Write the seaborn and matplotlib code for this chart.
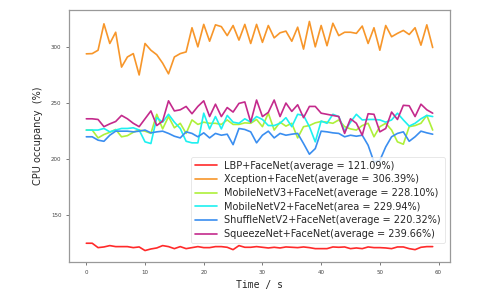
import numpy as np
import pandas as pd
import seaborn as sns
import matplotlib
matplotlib.use('Agg')
import matplotlib.pyplot as plt

seconds = list(range(60))

lbp = [125.3, 125.3, 121.4, 122.0, 123.2, 122.3, 122.3, 122.3, 121.4, 122.0,
       118.8, 120.2, 121.1, 123.2, 122.3, 120.5, 122.3, 120.5, 121.4, 122.3,
       121.4, 121.4, 122.3, 122.3, 121.7, 119.6, 123.2, 121.7, 121.7, 122.3,
       121.7, 121.1, 121.7, 121.1, 122.0, 121.7, 121.4, 122.0, 121.4, 120.5,
       120.5, 120.5, 122.0, 121.7, 122.0, 120.5, 121.1, 120.5, 122.0, 121.4,
       121.4, 121.1, 120.5, 122.0, 122.0, 120.5, 119.6, 121.7, 122.3, 122.3]

xception = [293.8, 294.0, 297.0, 320.5, 303.0, 313.0, 282.0, 291.0, 294.0, 275.0,
            303.0, 297.0, 293.0, 285.5, 276.0, 291.0, 294.0, 295.5, 317.0, 300.0,
            320.0, 305.0, 319.6, 318.0, 310.0, 319.0, 306.0, 320.0, 303.0, 320.0,
            304.0, 319.0, 308.0, 312.5, 314.0, 305.0, 317.5, 298.0, 322.6, 300.0,
            319.0, 301.0, 321.0, 310.0, 313.0, 313.0, 312.0, 318.5, 303.0, 317.0,
            297.0, 319.0, 309.0, 312.0, 314.6, 311.0, 317.0, 301.5, 319.6, 299.4]

mobilev3 = [226.0, 226.0, 219.0, 222.0, 224.0, 226.5, 220.0, 221.0, 224.0, 226.0,
            225.0, 223.0, 240.0, 227.0, 238.0, 228.0, 232.0, 223.0, 235.0, 231.0,
            233.0, 232.0, 232.0, 231.0, 235.0, 231.0, 231.0, 232.4, 232.0, 235.4,
            229.0, 241.0, 226.0, 233.0, 229.5, 232.0, 219.0, 229.0, 230.0, 232.4,
            233.6, 233.0, 232.0, 235.0, 229.0, 227.0, 226.0, 230.0, 232.0, 220.0,
            229.0, 232.0, 226.0, 215.5, 213.4, 229.0, 230.0, 232.0, 239.0, 226.0]

mobilev2 = [226.0, 226.0, 226.0, 227.4, 224.4, 226.0, 227.4, 227.4, 228.0, 226.0,
            215.5, 214.0, 237.0, 233.0, 240.0, 233.0, 227.4, 216.0, 214.6, 214.6,
            241.0, 227.0, 238.0, 227.0, 239.0, 233.0, 232.0, 236.0, 233.0, 238.0,
            235.4, 230.0, 230.0, 232.0, 237.0, 229.0, 240.0, 239.0, 229.0, 215.5,
            234.0, 232.0, 240.0, 238.0, 225.0, 233.0, 240.0, 235.0, 235.4, 235.4,
            235.0, 233.0, 235.0, 241.0, 235.0, 229.5, 232.0, 236.0, 239.0, 238.0]

shufflev2 = [220.0, 220.0, 217.0, 216.0, 221.4, 225.0, 225.0, 225.0, 224.4, 225.0,
             226.0, 223.5, 224.4, 225.0, 223.0, 220.5, 219.0, 224.4, 223.0, 220.0,
             223.5, 219.0, 223.0, 221.4, 222.3, 213.0, 227.4, 226.5, 224.4, 214.6,
             221.4, 225.0, 219.0, 223.0, 221.4, 222.3, 223.0, 214.0, 204.5, 209.5,
             225.0, 224.4, 223.5, 223.0, 220.0, 221.4, 220.5, 221.4, 212.5, 197.6,
             199.0, 211.0, 220.0, 223.0, 224.4, 216.0, 220.0, 225.0, 223.5, 222.3]

squeeze = [236.0, 236.0, 235.4, 229.0, 231.5, 233.6, 239.0, 236.0, 232.0, 229.0,
           236.0, 243.0, 230.0, 234.0, 252.0, 243.0, 244.0, 247.0, 240.5, 247.0,
           252.0, 238.0, 249.0, 238.0, 246.0, 242.0, 249.7, 251.0, 233.0, 252.7,
           238.0, 241.7, 252.7, 238.0, 250.0, 242.6, 248.5, 237.0, 247.0, 247.0,
           241.0, 240.0, 239.0, 238.0, 223.0, 236.0, 232.0, 221.4, 240.5, 240.0,
           224.4, 227.4, 242.0, 235.4, 248.0, 247.6, 238.0, 249.0, 244.0, 241.0]

labels = ['LBP+FaceNet(average = 121.09%)',
          'Xception+FaceNet(average = 306.39%)',
          'MobileNetV3+FaceNet(average = 228.10%)',
          'MobileNetV2+FaceNet(area = 229.94%)',
          'ShuffleNetV2+FaceNet(average = 220.32%)',
          'SqueezeNet+FaceNet(average = 239.66%)']
colors = ['#ff2a2a', '#f7962a', '#aef03a', '#1ef0f0', '#3a8ef0', '#c42a8c']

series = [lbp, xception, mobilev3, mobilev2, shufflev2, squeeze]
df = pd.concat([pd.DataFrame({'time': seconds, 'cpu': s, 'model': l})
                for s, l in zip(series, labels)])

sns.set_style('white')
fig = plt.figure(figsize=(4.82, 2.99), dpi=100)
ax = fig.add_axes([69 / 482, 37 / 299, 381 / 482, 252 / 299])

sns.lineplot(data=df, x='time', y='cpu', hue='model', hue_order=labels,
             palette=dict(zip(labels, colors)), linewidth=1.2, ax=ax)

ax.set_xticks(range(0, 61, 10))
ax.set_yticks([150, 200, 250, 300])
ax.tick_params(labelsize=4, colors='#444444', length=2, width=0.5, bottom=True, left=True)
for sp in ax.spines.values():
    sp.set_color('#999999')
    sp.set_linewidth(0.9)

ax.set_xlabel('Time / s', fontsize=7, family='DejaVu Sans Mono', labelpad=4)
ax.set_ylabel('CPU occupancy  (%)', fontsize=7, labelpad=6)

# legend box sits a bit above the bottom spine
leg = ax.legend(loc='lower right', bbox_to_anchor=(1 - 5 / 381, 19 / 252),
                borderaxespad=0, fontsize=7, frameon=True,
                handlelength=2.2, labelspacing=0.38)
leg.get_frame().set_edgecolor('#dddddd')
leg.get_frame().set_linewidth(0.6)

fig.savefig('out.png', dpi=100)
